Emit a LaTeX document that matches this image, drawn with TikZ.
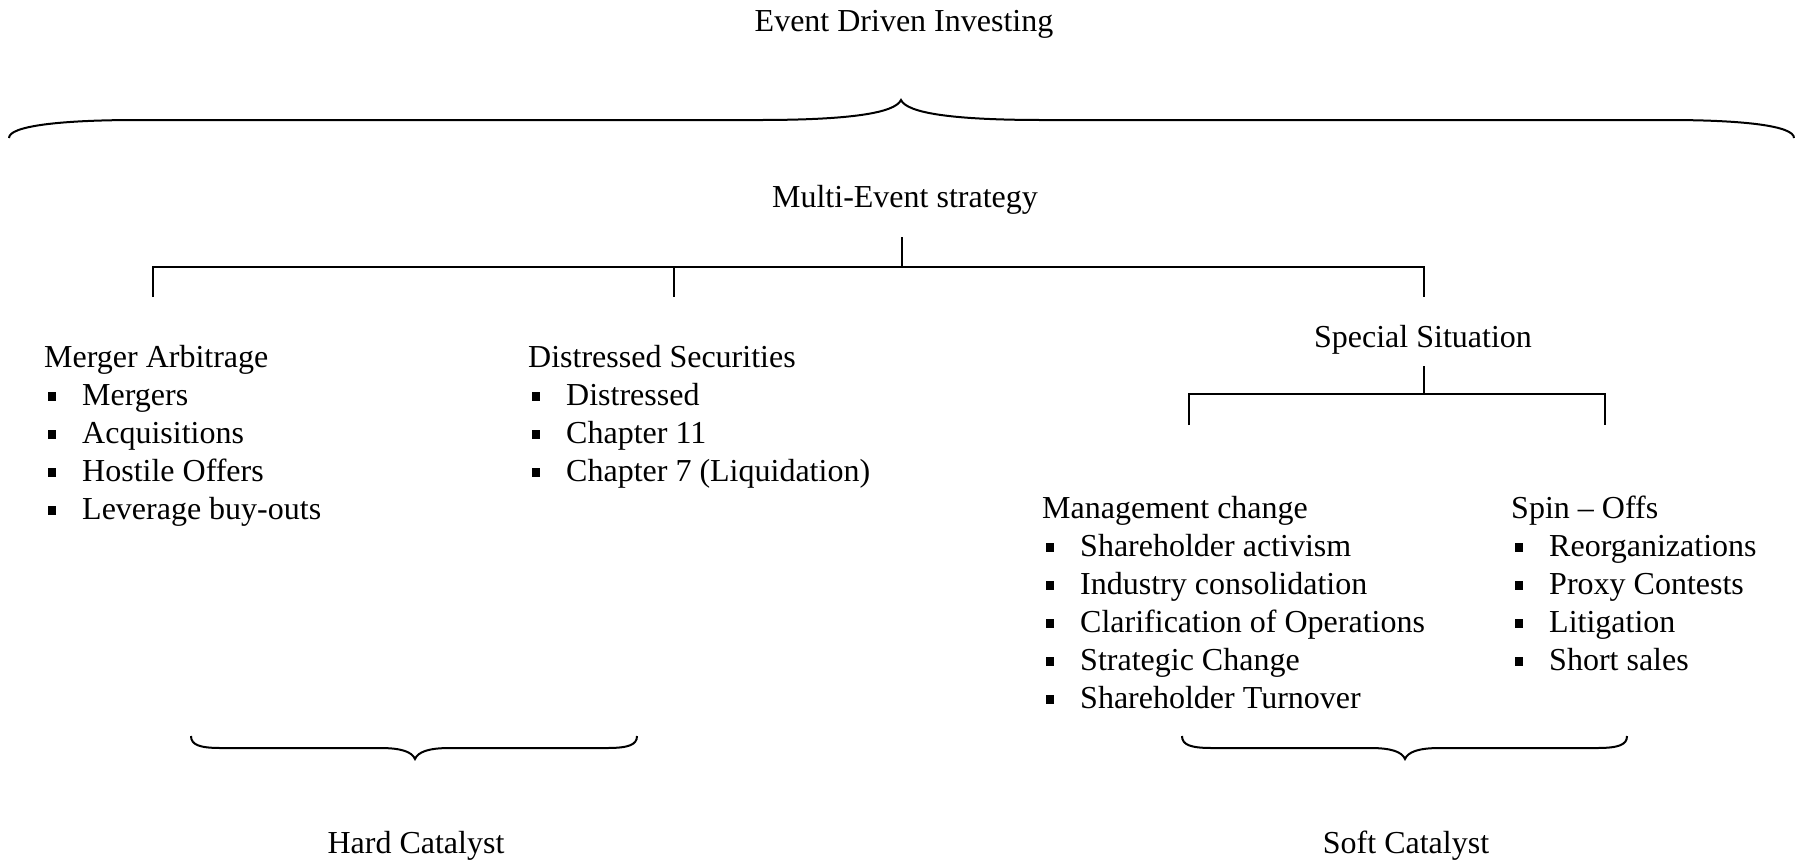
\documentclass[tikz,border=0pt]{standalone}
\usepackage{fontspec}
\setmainfont{Liberation Serif}
\newcommand\bul{\makebox[38pt][l]{\hspace*{3.5pt}\rule[4pt]{8.5pt}{8.7pt}}}
\begin{document}
\begin{tikzpicture}[x=1pt,y=-1pt,
  txt/.style={inner sep=0pt, font=\fontsize{32}{38}\selectfont},
  tree/.style={line width=1.3pt},
  bracepath/.style={line width=2pt}]
\useasboundingbox (0,0) rectangle (1803,860);

% titles
\node[txt, anchor=base] (edi) at (904,31) {Event Driven Investing};
\node[txt, anchor=base] (mes) at (905,207) {Multi-Event strategy};
\node[txt, anchor=base] (ss) at (1423,347) {Special Situation};
\node[txt, anchor=base] (hc) at (416,853) {Hard Catalyst};
\node[txt, anchor=base] (sc) at (1406,853) {Soft Catalyst};

% lists
\node[txt, anchor=base west] (ma) at (44,367) {\begin{tabular}[t]{@{}l@{}}
Merger Arbitrage\\
\bul Mergers\\
\bul Acquisitions\\
\bul Hostile Offers\\
\bul Leverage buy-outs
\end{tabular}};
\node[txt, anchor=base west] (ds) at (528,367) {\begin{tabular}[t]{@{}l@{}}
Distressed Securities\\
\bul Distressed\\
\bul Chapter 11\\
\bul Chapter 7 (Liquidation)
\end{tabular}};
\node[txt, anchor=base west] (mc) at (1042,518) {\begin{tabular}[t]{@{}l@{}}
Management change\\
\bul Shareholder activism\\
\bul Industry consolidation\\
\bul Clarification of Operations\\
\bul Strategic Change\\
\bul Shareholder Turnover
\end{tabular}};
\node[txt, anchor=base west] (so) at (1511,518) {\begin{tabular}[t]{@{}l@{}}
Spin -- Offs\\
\bul Reorganizations\\
\bul Proxy Contests\\
\bul Litigation\\
\bul Short sales
\end{tabular}};

% first tree
\coordinate (r0) at (902,237);
\coordinate (r1) at (902,267);
\coordinate (h1) at (153,267);
\coordinate (h2) at (674,267);
\coordinate (h3) at (1424,267);
\coordinate (d1) at (153,297);
\coordinate (d2) at (674,297);
\coordinate (d3) at (1424,297);
\draw[tree] (r0) -- (r1);
\draw[tree] (d1) -- (h1) -- (h3) -- (d3);
\draw[tree] (h2) -- (d2);

% second tree
\coordinate (s0) at (1424,366);
\coordinate (s1) at (1424,394);
\coordinate (g1) at (1189,394);
\coordinate (g2) at (1605,394);
\coordinate (e1) at (1189,425);
\coordinate (e2) at (1605,425);
\draw[tree] (s0) -- (s1);
\draw[tree] (e1) -- (g1) -- (g2) -- (e2);

% big brace (tip up)
\draw[bracepath] (9,138) .. controls (9,126) and (60,120) .. (138,120) -- (759,120)
  .. controls (850,120) and (895,113) .. (901,100)
  .. controls (907,113) and (952,120) .. (1043,120) -- (1667,120)
  .. controls (1745,120) and (1794,126) .. (1794,138);

% hard catalyst brace (tip down)
\draw[bracepath] (191,736) .. controls (191,745) and (200,748) .. (221,748) -- (380,748)
  .. controls (402,748) and (412,752) .. (415,759)
  .. controls (418,752) and (428,748) .. (450,748) -- (607,748)
  .. controls (628,748) and (637,745) .. (637,736);

% soft catalyst brace (tip down)
\draw[bracepath] (1182,736) .. controls (1182,745) and (1191,748) .. (1212,748) -- (1370,748)
  .. controls (1392,748) and (1402,752) .. (1405,759)
  .. controls (1408,752) and (1418,748) .. (1440,748) -- (1597,748)
  .. controls (1618,748) and (1627,745) .. (1627,736);
\end{tikzpicture}
\end{document}
